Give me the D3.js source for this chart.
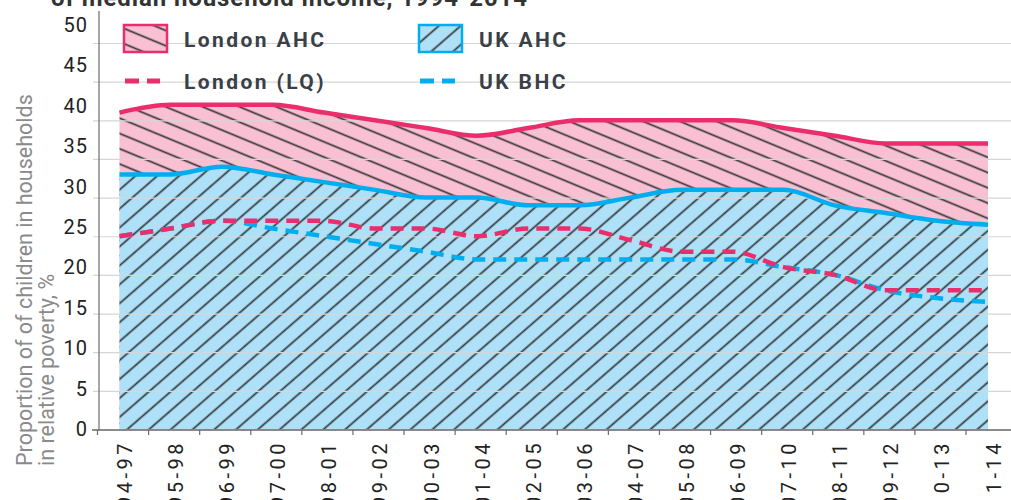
<!DOCTYPE html>
<html>
<head>
<meta charset="utf-8">
<script src="https://cdn.jsdelivr.net/npm/d3@7"></script>
<style>
  html, body { margin: 0; padding: 0; background: #fff; overflow: hidden; }
  svg { display: block; }
</style>
</head>
<body>
<svg id="chart" width="1011" height="500"></svg>
<script>
// ---- data ----
const categories = ["94-97","95-98","96-99","97-00","98-01","99-02","00-03","01-04","02-05",
                    "03-06","04-07","05-08","06-09","07-10","08-11","09-12","10-13","11-14"];
const londonAHC = [41, 42, 42, 42, 41, 40, 39, 38, 39, 40, 40, 40, 40, 39, 38, 37, 37, 37];
const ukAHC     = [33, 33, 34, 33, 32, 31, 30, 30, 29, 29, 30, 31, 31, 31, 29, 28, 27, 26.5];
const londonLQ  = [25, 26, 27, 27, 27, 26, 26, 25, 26, 26, 24.5, 23, 23, 21, 20, 18, 18, 18];
const ukBHC     = [25, 26, 27, 26, 25, 24, 23, 22, 22, 22, 22, 22, 22, 21, 20, 18, 17, 16.5];
const yTicks = [0, 5, 10, 15, 20, 25, 30, 35, 40, 45, 50];
const legendItems = ["London AHC", "UK AHC", "London (LQ)", "UK BHC"];
const titleText = "of median household income, 1994-2014";
const yTitle = ["Proportion of of children in households", "in relative poverty, %"];

// ---- styles ----
const PINK = "#EC2D6B", PINK_FILL = "#F9C0D3";
const BLUE = "#00AEEF", BLUE_FILL = "#AEE1F8";
const HATCH = "#333638";
const FONT = "Roboto, 'Liberation Sans', sans-serif";

const svg = d3.select("#chart");
const W = 1011;

// scales
const x = d3.scalePoint().domain(categories).range([119.5, 988]);
const y = d3.scaleLinear().domain([0, 50]).range([429.5, 43]);
const yLab = d3.scaleLinear().domain([0, 50]).range([429, 25]);

// patterns
const defs = svg.append("defs");
function hatch(id, fill, angle, sp) {
  const p = defs.append("pattern").attr("id", id)
    .attr("patternUnits", "userSpaceOnUse")
    .attr("width", sp).attr("height", sp)
    .attr("patternTransform", `rotate(${angle})`);
  p.append("rect").attr("width", sp).attr("height", sp).attr("fill", fill);
  p.append("line").attr("x1", 0).attr("x2", sp).attr("y1", sp / 2).attr("y2", sp / 2)
    .attr("stroke", HATCH).attr("stroke-width", 1.7);
}
hatch("hPink", PINK_FILL, 22.5, 14.1);
hatch("hBlue", BLUE_FILL, -41, 14.3);

// title (clipped at top)
svg.append("text").attr("x", 51).attr("y", 6)
  .attr("font-family", FONT).attr("font-weight", 700).attr("font-size", 24)
  .attr("letter-spacing", 0.9).attr("fill", "#333")
  .text(titleText);

const curve = d3.curveMonotoneX;
const idx = d3.range(categories.length);

// areas
const area = (arr) => d3.area().curve(curve)
  .x(i => x(categories[i])).y0(y(0)).y1(i => y(arr[i]));
svg.append("path").datum(idx).attr("d", area(londonAHC)).attr("fill", "url(#hPink)");
svg.append("path").datum(idx).attr("d", area(ukAHC)).attr("fill", "url(#hBlue)");

// gridlines
const grid = svg.append("g").attr("transform", "translate(93,0)")
  .call(d3.axisLeft(y).tickValues(yTicks).tickSize(-(W - 93)).tickFormat(""));
grid.select(".domain").remove();
grid.selectAll(".tick line").attr("stroke", "#d6d6d6").attr("stroke-width", 1.2);

// lines
const line = (arr) => d3.line().curve(curve)
  .x(i => x(categories[i])).y(i => y(arr[i]));
svg.append("path").datum(idx).attr("d", line(londonAHC))
  .attr("fill", "none").attr("stroke", PINK).attr("stroke-width", 4.5);
svg.append("path").datum(idx).attr("d", line(ukAHC))
  .attr("fill", "none").attr("stroke", BLUE).attr("stroke-width", 4.5);
svg.append("path").datum(idx).attr("d", line(ukBHC))
  .attr("fill", "none").attr("stroke", BLUE).attr("stroke-width", 4.5)
  .attr("stroke-dasharray", "13,8");
svg.append("path").datum(idx).attr("d", line(londonLQ))
  .attr("fill", "none").attr("stroke", PINK).attr("stroke-width", 4.5)
  .attr("stroke-dasharray", "13,8");

// y axis line + labels
svg.append("line").attr("x1", 99).attr("x2", 99).attr("y1", 11).attr("y2", 430)
  .attr("stroke", "#6b6b6b").attr("stroke-width", 1.2);
const yAx = svg.append("g").attr("transform", "translate(88,0)")
  .call(d3.axisLeft(yLab).tickValues(yTicks).tickSize(0).tickPadding(0));
yAx.select(".domain").remove();
yAx.selectAll("text").attr("font-family", FONT).attr("font-size", 20)
  .attr("letter-spacing", 1).attr("fill", "#222");

// x axis line + ticks
svg.append("line").attr("x1", 92).attr("x2", W).attr("y1", 430).attr("y2", 430)
  .attr("stroke", "#6b6b6b").attr("stroke-width", 1.5);
const xTicks = svg.append("g").attr("transform", "translate(-22.5,430)")
  .call(d3.axisBottom(x).tickSize(5).tickFormat(""));
xTicks.select(".domain").remove();
xTicks.selectAll(".tick line").attr("stroke", "#6b6b6b").attr("stroke-width", 1.2);

const xLab = svg.append("g").attr("transform", "translate(5,440)")
  .call(d3.axisBottom(x).tickSize(0).tickPadding(0));
xLab.select(".domain").remove();
xLab.selectAll("text")
  .attr("font-family", FONT).attr("font-size", 20).attr("letter-spacing", 3.5)
  .attr("fill", "#222")
  .attr("transform", "rotate(-90)")
  .attr("text-anchor", "end").attr("dy", "0.35em").attr("y", 0).attr("x", 0);

// y title
const yt = svg.append("text")
  .attr("transform", "translate(0,466) rotate(-90)")
  .attr("font-family", FONT).attr("font-size", 21.5).attr("fill", "#8a8a8a");
yt.selectAll("tspan").data(yTitle).join("tspan")
  .attr("x", 0).attr("y", (d, i) => 32 + i * 22).text(d => d);

// legend
const lg = svg.append("g").attr("font-family", FONT).attr("font-weight", 700)
  .attr("font-size", 21).attr("letter-spacing", 2.4).attr("fill", "#3a4047");
const cols = [123, 418];
const rows = [39, 81];
// boxes
[["hPink", PINK], ["hBlue", BLUE]].forEach(([pat, col], i) => {
  lg.append("rect").attr("x", cols[i] + 1).attr("y", 25).attr("width", 43).attr("height", 27)
    .attr("fill", `url(#${pat})`).attr("stroke", col).attr("stroke-width", 2.5);
});
// dashes
[PINK, BLUE].forEach((col, i) => {
  lg.append("line").attr("x1", cols[i] + 2).attr("x2", cols[i] + 37)
    .attr("y1", rows[1]).attr("y2", rows[1])
    .attr("stroke", col).attr("stroke-width", 5).attr("stroke-dasharray", "14,8");
});
legendItems.forEach((t, i) => {
  const c = i % 2, r = Math.floor(i / 2);
  lg.append("text").attr("x", cols[c] + 61).attr("y", rows[r]).attr("dy", "0.36em").text(t);
});
</script>
</body>
</html>
